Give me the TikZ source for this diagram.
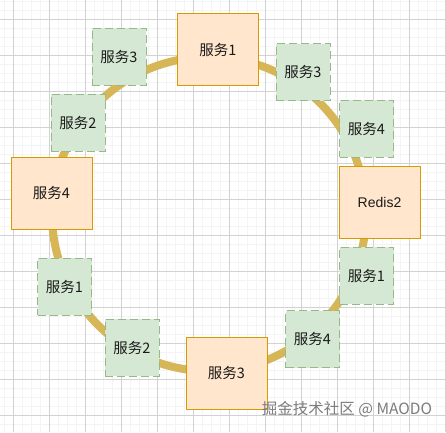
\documentclass[tikz,border=0pt]{standalone}
\usepackage{fontspec}
\setmainfont{Liberation Sans}
\newfontfamily\cjk{Noto Sans CJK SC}
\definecolor{ringc}{HTML}{D6B656}
\definecolor{ofill}{HTML}{FFE6CC}
\definecolor{odraw}{HTML}{D79B00}
\definecolor{gfill}{HTML}{D5E8D4}
\definecolor{gdraw}{HTML}{97B98A}
\definecolor{gridmin}{HTML}{F4F4F4}
\definecolor{gridmaj}{HTML}{D2D2D2}
\definecolor{txt}{HTML}{1A1A1A}
\definecolor{wm}{HTML}{7C7C7C}
\tikzset{
  obox/.style={draw=odraw,fill=ofill,line width=1pt,minimum width=81pt,minimum height=72pt,inner sep=0pt,font=\fontsize{14.5}{17}\selectfont\cjk,text=txt},
  gbox/.style={draw=gdraw,fill=gfill,line width=1pt,dash pattern=on 8pt off 4pt,minimum width=54pt,minimum height=57pt,inner sep=0pt,font=\fontsize{14.5}{17}\selectfont\cjk,text=txt},
  ringline/.style={draw=ringc,line width=8pt},
}
\begin{document}
\begin{tikzpicture}[x=1pt,y=-1pt]
\useasboundingbox (0,0) rectangle (446,432);
\fill[white] (0,0) rectangle (446,432);
% grid
\foreach \i in {0,...,49} {
  \draw[gridmin,line width=0.6pt] ({4.3+9*\i},0) -- ({4.3+9*\i},432);
  \draw[gridmin,line width=0.6pt] (0,{1+9*\i}) -- (446,{1+9*\i});
}
\foreach \i in {0,...,12} {
  \draw[gridmaj,line width=0.8pt] ({13.3+36*\i},0) -- ({13.3+36*\i},432);
  \draw[gridmaj,line width=0.8pt] (0,{19+36*\i}) -- (446,{19+36*\i});
}
% ring
\coordinate (c) at (209,214);
\draw[ringline] (c) circle[radius=157pt];
% boxes
\node[obox] (o1) at (218,49.5) {服务1};
\node[gbox] (g3a) at (119,56.5) {服务3};
\node[gbox] (g2a) at (78,122.5) {服务2};
\node[obox] (o4) at (51.5,193) {服务4};
\node[gbox] (g3b) at (303,72) {服务3};
\node[gbox] (g4a) at (366.5,128.5) {服务4};
\node[obox,font=\fontsize{14}{17}\selectfont] (o2) at (379.5,202) {Redis2};
\node[gbox] (g1a) at (366.5,275.5) {服务1};
\node[gbox] (g4b) at (312.5,339) {服务4};
\node[obox] (o3) at (226.5,373) {服务3};
\node[gbox] (g2b) at (132,347.5) {服务2};
\node[gbox] (g1b) at (64.5,286.5) {服务1};
% watermark
\node[text=wm,font=\fontsize{15.5}{18}\selectfont\cjk,inner sep=0pt] (wm) at (347,409) {掘金技术社区 @ MAODO};
\end{tikzpicture}
\end{document}
